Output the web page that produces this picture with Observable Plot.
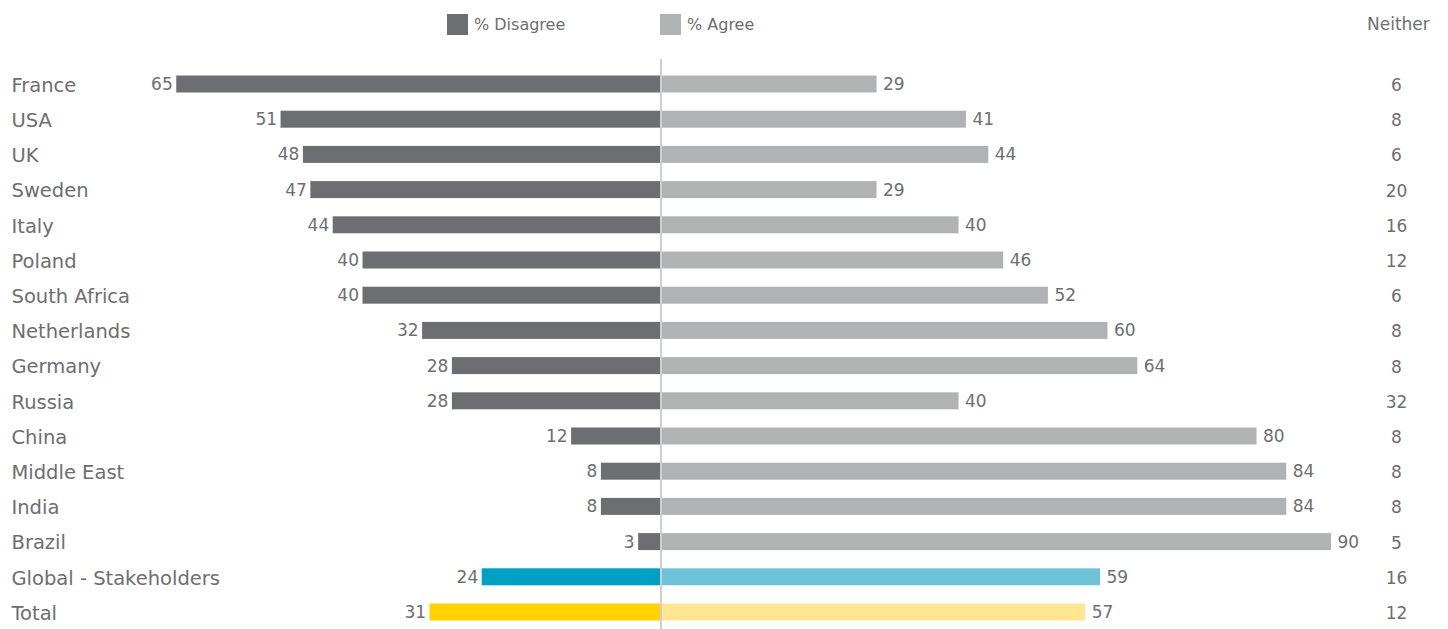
<!DOCTYPE html>
<html>
<head>
<meta charset="utf-8">
<script src="https://cdn.jsdelivr.net/npm/d3@7"></script>
<script src="https://cdn.jsdelivr.net/npm/@observablehq/plot@0.6"></script>
<style>
  html, body { margin: 0; padding: 0; background: #fff; }
  body { width: 1448px; height: 629px; overflow: hidden; font-family: "DejaVu Sans", sans-serif; color: #6d6e71; }
  #legend { position: relative; height: 49px; }
  .sw { position: absolute; top: 14px; width: 21px; height: 21px; }
  .lt { position: absolute; top: 14px; font-size: 16px; line-height: 22px; color: #6d6e71; }
  #chart svg { display: block; }
</style>
</head>
<body>
<div id="legend">
  <div class="sw" style="left:447px;background:#6d6e71"></div>
  <div class="lt" style="left:474px">% Disagree</div>
  <div class="sw" style="left:660px;background:#b1b2b4"></div>
  <div class="lt" style="left:687px">% Agree</div>
  <div class="lt" style="left:1367px;font-size:17px;top:13px">Neither</div>
</div>
<div id="chart"></div>
<script>
// Survey responses by country: share disagreeing, agreeing, and neither
const countries = ["France", "USA", "UK", "Sweden", "Italy", "Poland", "South Africa", "Netherlands",
  "Germany", "Russia", "China", "Middle East", "India", "Brazil", "Global - Stakeholders", "Total"];
const disagree = [65, 51, 48, 47, 44, 40, 40, 32, 28, 28, 12, 8, 8, 3, 24, 31];
const agree    = [29, 41, 44, 29, 40, 46, 52, 60, 64, 40, 80, 84, 84, 90, 59, 57];
const neither  = [6, 8, 6, 20, 16, 12, 6, 8, 8, 32, 8, 8, 8, 5, 16, 12];

// Row groups pick the colour pair of each bar
const groupOf = (c) => c === "Total" ? "total" : c === "Global - Stakeholders" ? "global" : "country";
const disagreeColor = {country: "#6d6e71", global: "#00a0c4", total: "#ffd200"};
const agreeColor    = {country: "#b1b2b4", global: "#6fc3d9", total: "#ffe792"};

const rows = countries.map((c, i) => ({
  country: c,
  disagree: disagree[i],
  agree: agree[i],
  neither: neither[i],
  group: groupOf(c)
}));

const textColor = "#6d6e71";
const font = "DejaVu Sans, sans-serif";

const chart = Plot.plot({
  width: 1448,
  height: 580,
  marginTop: 10,
  marginBottom: 0,
  marginLeft: 0,
  marginRight: 0,
  style: {fontFamily: font, background: "#fff"},
  x: {domain: [-100, 100], range: [660.5 - 745, 660.5 + 745], axis: null},
  y: {domain: countries, range: [17.4, 580.6], padding: 0, round: false, axis: null},
  marks: [
    // disagree bars extend left of the centre
    Plot.barX(rows, {
      y: "country", x1: 0, x2: d => -d.disagree,
      fill: d => disagreeColor[d.group],
      insetTop: 9.1, insetBottom: 9.1
    }),
    // agree bars extend right
    Plot.barX(rows, {
      y: "country", x1: 0, x2: "agree",
      fill: d => agreeColor[d.group],
      insetTop: 9.1, insetBottom: 9.1
    }),
    // centre divider
    Plot.ruleX([0], {stroke: "#cfcfcf", strokeWidth: 2}),
    // value labels
    Plot.text(rows, {
      y: "country", x: d => -d.disagree, text: d => String(d.disagree),
      textAnchor: "end", dx: -4, fontSize: 17, fill: textColor, fontFamily: font
    }),
    Plot.text(rows, {
      y: "country", x: "agree", text: d => String(d.agree),
      textAnchor: "start", dx: 6, fontSize: 17, fill: textColor, fontFamily: font
    }),
    Plot.text(rows, {
      y: "country", text: d => String(d.neither), frameAnchor: "right",
      textAnchor: "middle", dx: -52, dy: 1, fontSize: 17, fill: textColor, fontFamily: font
    }),
    // country names
    Plot.text(rows, {
      y: "country", text: "country", frameAnchor: "left",
      textAnchor: "start", dx: 11, dy: 1, fontSize: 19.5, fill: textColor, fontFamily: font
    })
  ]
});

document.getElementById("chart").appendChild(chart);
</script>
</body>
</html>
